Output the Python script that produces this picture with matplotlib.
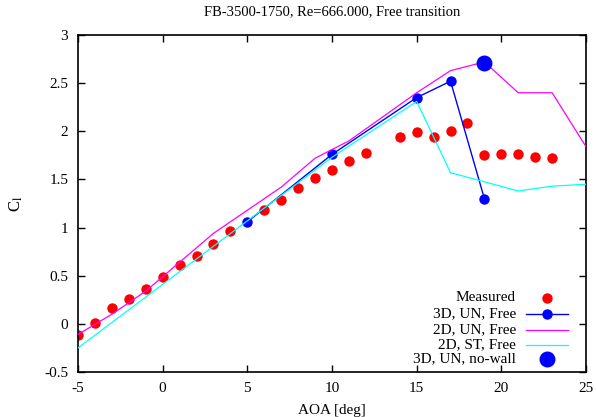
import matplotlib
matplotlib.use('Agg')
import matplotlib.pyplot as plt
from matplotlib.ticker import FormatStrFormatter

plt.rcParams['font.family'] = 'Liberation Serif'
plt.rcParams['mathtext.fontset'] = 'stix'
plt.rcParams['axes.unicode_minus'] = False

# Measured data
aoa_meas = [-5, -4, -3, -2, -1, 0, 1, 2, 3, 4, 6, 7, 8, 9, 10, 11, 12,
            14, 15, 16, 17, 18, 19, 20, 21, 22, 23]
cl_meas = [-0.12, 0.01, 0.16, 0.26, 0.36, 0.49, 0.61, 0.70, 0.83, 0.96, 1.18,
           1.29, 1.41, 1.51, 1.60, 1.69, 1.77, 1.94, 1.99, 1.94, 2.00, 2.09,
           1.75, 1.76, 1.76, 1.73, 1.72]

# 3D, UN, Free
aoa_3d = [5, 10, 15, 17, 19]
cl_3d = [1.06, 1.76, 2.35, 2.52, 1.30]

# 2D, UN, Free
aoa_2d_un = [-5, -3, -1, 0, 1, 3, 5, 7, 9, 10, 11, 13, 15, 17, 19, 21, 23, 25]
cl_2d_un = [-0.11, 0.10, 0.34, 0.49, 0.64, 0.94, 1.18, 1.42, 1.72, 1.81, 1.90,
            2.15, 2.40, 2.63, 2.72, 2.40, 2.40, 1.84]

# 2D, ST, Free
aoa_2d_st = [-5, 0, 5, 10, 15, 17, 21, 23, 25]
cl_2d_st = [-0.25, 0.41, 1.07, 1.73, 2.31, 1.57, 1.38, 1.43, 1.45]

# 3D, UN, no-wall
aoa_nowall = [19]
cl_nowall = [2.71]

fig = plt.figure(figsize=(5.96, 4.17), dpi=100)
ax = fig.add_axes([78 / 596, 1 - 372 / 417, 508 / 596, 337 / 417])

ax.plot(aoa_meas, cl_meas, 'o', color='red', ms=7.5, mec='none', zorder=2)
ax.plot(aoa_3d, cl_3d, '-o', color='blue', lw=1.0, ms=7.5, mec='none', zorder=3)
ax.plot(aoa_2d_un, cl_2d_un, '-', color='magenta', lw=0.9, zorder=4)
ax.plot(aoa_2d_st, cl_2d_st, '-', color='cyan', lw=0.9, zorder=5)
ax.plot(aoa_nowall, cl_nowall, 'o', color='blue', ms=11.5, mec='none', zorder=6)

ax.set_xlim(-5, 25)
ax.set_ylim(-0.5, 3)
ax.set_xticks([-5, 0, 5, 10, 15, 20, 25])
ax.set_yticks([-0.5, 0, 0.5, 1, 1.5, 2, 2.5, 3])
ax.yaxis.set_major_formatter(FormatStrFormatter('%g'))
ax.tick_params(direction='in', length=5, width=1, top=True, right=True,
               labelsize=11, pad=7)
for s in ax.spines.values():
    s.set_linewidth(1.2)

ax.set_title('FB-3500-1750, Re=666.000, Free transition', fontsize=10.5, pad=14)
ax.set_xlabel('AOA [deg]', fontsize=11, labelpad=7)
ax.set_ylabel(r'C$_\mathrm{l}$', fontsize=12, labelpad=14)

# gnuplot-style key: right aligned text, sample on the right
labels = ['Measured', '3D, UN, Free', '2D, UN, Free', '2D, ST, Free', '3D, UN, no-wall']
rows = [0.2205, 0.172, 0.1255, 0.081, 0.0386]
tx, x0, x1, xm = 0.862, 0.882, 0.965, 0.9235
for lab, yy in zip(labels, rows):
    ax.text(tx, yy, lab, transform=ax.transAxes, ha='right', va='center', fontsize=11)
ax.plot([xm], [rows[0]], 'o', color='red', ms=7.5, mec='none', transform=ax.transAxes, clip_on=False)
ax.plot([x0, x1], [rows[1]] * 2, '-', color='blue', lw=1.0, transform=ax.transAxes)
ax.plot([xm], [rows[1]], 'o', color='blue', ms=7.5, mec='none', transform=ax.transAxes)
ax.plot([x0, x1], [rows[2]] * 2, '-', color='magenta', lw=0.9, transform=ax.transAxes)
ax.plot([x0, x1], [rows[3]] * 2, '-', color='cyan', lw=0.9, transform=ax.transAxes)
ax.plot([xm], [rows[4]], 'o', color='blue', ms=11.5, mec='none', transform=ax.transAxes)

fig.savefig('out.png', dpi=100)
